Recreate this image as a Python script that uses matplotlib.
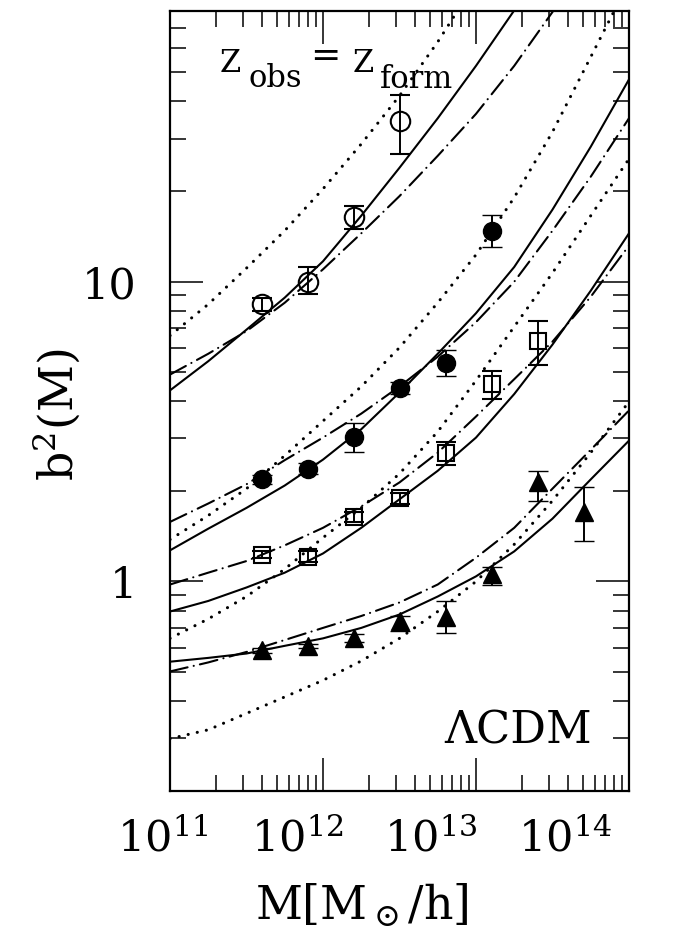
import numpy as np
import matplotlib
matplotlib.use("Agg")
import matplotlib.pyplot as plt
from matplotlib.transforms import ScaledTranslation
from matplotlib.ticker import LogLocator, NullFormatter

plt.rcParams['font.family'] = ['DejaVu Serif']
plt.rcParams['mathtext.fontset'] = 'dejavuserif'
plt.rcParams['lines.scale_dashes'] = False

# ---- halo mass bins of the simulation points [M_sun/h] ----
mass_pts = [4e11, 8e11, 1.6e12, 3.2e12, 6.4e12, 1.28e13, 2.56e13, 5.12e13]

# open circles (highest redshift)
oc_b2 = [8.4, 10.0, 16.5, 34.4]
oc_lo = [0.4, 0.9, 1.5, 7.7]
oc_hi = [0.4, 1.2, 1.4, 7.6]

# filled circles
fc_b2 = [2.19, 2.38, 3.04, 4.43, 5.37, 14.8]
fc_lo = [0.08, 0.10, 0.33, 0.20, 0.51, 1.7]
fc_hi = [0.08, 0.10, 0.35, 0.20, 0.56, 1.9]

# open squares
sq_b2 = [1.23, 1.21, 1.64, 1.90, 2.69, 4.57, 6.36]
sq_lo = [0.03, 0.05, 0.06, 0.08, 0.25, 0.50, 1.07]
sq_hi = [0.03, 0.05, 0.06, 0.08, 0.22, 0.48, 1.04]

# filled triangles (lowest redshift)
tr_b2 = [0.589, 0.61, 0.65, 0.736, 0.764, 1.06, 2.15, 1.71]
tr_lo = [0.01, 0.01, 0.02, 0.05, 0.093, 0.09, 0.29, 0.35]
tr_hi = [0.01, 0.01, 0.02, 0.034, 0.10, 0.06, 0.18, 0.36]

# ---- model curves, sampled every 0.25 dex in mass ----
log_mass = [11.0, 11.25, 11.5, 11.75, 12.0, 12.25, 12.5, 12.75, 13.0, 13.25, 13.5, 13.75, 14.0]

oc_solid   = [4.34, 5.43, 6.92, 8.85, 11.7, 16.6, 24.0, 35.1, 52.5, 80.4, 124]
oc_dashdot = [4.90, 5.75, 6.84, 8.51, 11.0, 14.5, 19.3, 26.3, 36.3, 52.5, 79.4, 123]
oc_dotted  = [6.61, 8.41, 11.1, 14.8, 20.4, 28.8, 41.7, 63.1, 100]

fc_solid   = [1.27, 1.50, 1.76, 2.09, 2.55, 3.22, 4.27, 5.75, 7.85, 11.2, 17.4, 28.2, 47.3]
fc_dashdot = [1.58, 1.82, 2.11, 2.54, 3.02, 3.63, 4.47, 5.62, 7.33, 10.0, 14.8, 22.4, 35.1]
fc_dotted  = [1.38, 1.66, 2.04, 2.63, 3.43, 4.47, 6.03, 8.51, 12.3, 19.1, 31.6, 56.2, 100]

sq_solid   = [0.794, 0.861, 0.955, 1.07, 1.24, 1.51, 1.88, 2.34, 3.02, 4.22, 6.17, 9.33, 14.5]
sq_dashdot = [0.977, 1.07, 1.17, 1.32, 1.51, 1.78, 2.14, 2.69, 3.55, 4.73, 6.31, 8.91, 13.2]
sq_dotted  = [0.646, 0.750, 0.891, 1.10, 1.40, 1.76, 2.29, 3.16, 4.68, 7.08, 10.7, 16.6, 25.7]

tr_solid   = [0.540, 0.556, 0.575, 0.610, 0.646, 0.700, 0.776, 0.891, 1.04, 1.26, 1.62, 2.19, 2.95]
tr_dashdot = [0.501, 0.537, 0.582, 0.638, 0.700, 0.767, 0.851, 0.977, 1.20, 1.51, 2.04, 2.75, 3.72]
tr_dotted  = [0.299, 0.320, 0.363, 0.412, 0.468, 0.543, 0.646, 0.794, 1.00, 1.33, 1.86, 2.69, 3.98]

x_ticks = [1e11, 1e12, 1e13, 1e14]
x_tick_labels = [r'$10^{11}$', r'$10^{12}$', r'$10^{13}$', r'$10^{14}$']
y_ticks = [1, 10]
y_tick_labels = ['1', '10']

fig = plt.figure(figsize=(6.97, 9.42), dpi=100)
ax = fig.add_axes([0.2439, 0.1603, 0.6585, 0.828])
ax.set_xscale('log')
ax.set_yscale('log')
ax.set_xlim(1e11, 1e14)
ax.set_ylim(0.2, 80)

grid = 10.0 ** np.array(log_mass)

solid_kw = dict(color='k', lw=1.5, ls='-')
dashdot_kw = dict(color='k', lw=1.5, ls=(0, (13, 4.5, 0.1, 4.5)), dash_capstyle='round')
dotted_kw = dict(color='k', lw=2.2, ls=(0, (0.1, 6.6)), dash_capstyle='round')

for s, d, o in [(oc_solid, oc_dashdot, oc_dotted),
                (fc_solid, fc_dashdot, fc_dotted),
                (sq_solid, sq_dashdot, sq_dotted),
                (tr_solid, tr_dashdot, tr_dotted)]:
    ax.plot(grid[:len(s)], s, **solid_kw)
    ax.plot(grid[:len(d)], d, **dashdot_kw)
    ax.plot(grid[:len(o)], o, **dotted_kw)

err_kw = dict(ecolor='k', elinewidth=1.4, capsize=7, capthick=1.4, ls='none', mec='k')
ax.errorbar(mass_pts[:len(oc_b2)], oc_b2, yerr=[oc_lo, oc_hi], marker='o', ms=14,
            mfc='none', mew=1.5, **err_kw)
ax.errorbar(mass_pts[:len(fc_b2)], fc_b2, yerr=[fc_lo, fc_hi], marker='o', ms=13,
            mfc='k', mew=1.0, **err_kw)
ax.errorbar(mass_pts[:len(sq_b2)], sq_b2, yerr=[sq_lo, sq_hi], marker='s', ms=11,
            mfc='none', mew=1.5, **err_kw)
ax.errorbar(mass_pts[:len(tr_b2)], tr_b2, yerr=[tr_lo, tr_hi], marker='^', ms=13,
            mfc='k', mew=1.0, **err_kw)

# axes frame and ticks
for sp in ax.spines.values():
    sp.set_linewidth(1.6)

ax.set_xticks(x_ticks)
ax.set_xticklabels(x_tick_labels)
ax.set_yticks(y_ticks)
ax.set_yticklabels(y_tick_labels)
ax.xaxis.set_minor_locator(LogLocator(base=10, subs=np.arange(2, 10), numticks=50))
ax.yaxis.set_minor_locator(LogLocator(base=10, subs=np.arange(2, 10), numticks=50))
ax.xaxis.set_minor_formatter(NullFormatter())
ax.yaxis.set_minor_formatter(NullFormatter())

ax.tick_params(which='both', direction='in', top=True, right=True, width=1.1)
ax.tick_params(which='major', length=23.5)
ax.tick_params(which='minor', length=11.5)
ax.tick_params(axis='x', which='major', pad=20, labelsize=31)
ax.tick_params(axis='y', which='major', pad=24, labelsize=31)

# shift the mass labels leftwards progressively
for i, lab in enumerate(ax.get_xticklabels()):
    dx = -(7 + 19 * i) / 100.0
    lab.set_transform(lab.get_transform() + ScaledTranslation(dx, 0, fig.dpi_scale_trans))

ax.set_xlabel(r'M[M$_\odot$/h]', fontsize=33)
ax.xaxis.set_label_coords(0.418, -0.118)
ax.set_ylabel(r'b$^2$(M)', fontsize=33)
ax.yaxis.set_label_coords(-0.19, 0.482)

# annotations
tsz = 22
ax.text(0.109, 0.9218, 'Z', transform=ax.transAxes, fontsize=tsz, va='baseline', ha='left')
ax.text(0.170, 0.9026, 'obs', transform=ax.transAxes, fontsize=tsz, va='baseline', ha='left')
ax.text(0.305, 0.929, '=', transform=ax.transAxes, fontsize=tsz + 4, va='baseline', ha='left')
ax.text(0.3987, 0.9218, 'Z', transform=ax.transAxes, fontsize=tsz, va='baseline', ha='left')
ax.text(0.4575, 0.9013, 'form', transform=ax.transAxes, fontsize=tsz, va='baseline', ha='left')

ax.text(0.919, 0.0615, 'ΛCDM', transform=ax.transAxes, fontsize=32, va='baseline', ha='right')

fig.savefig('out.png', dpi=100)
